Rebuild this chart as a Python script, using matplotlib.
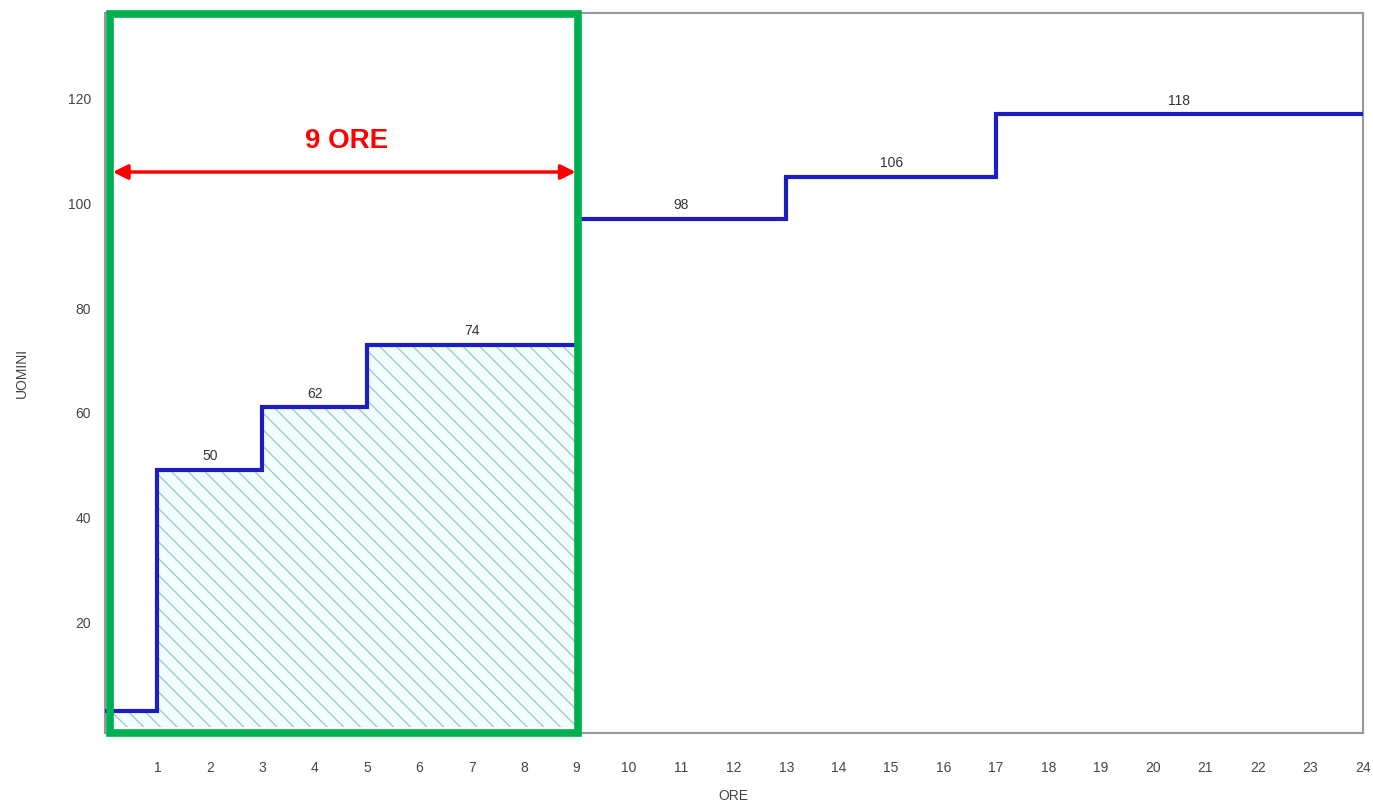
import matplotlib
matplotlib.use("Agg")
import matplotlib.pyplot as plt
import matplotlib.transforms as mtransforms
from matplotlib.patches import Rectangle

plt.rcParams.update({"font.family": ["Liberation Sans", "DejaVu Sans"]})

# step edges (hours) and crew level on each interval
edges = [0, 1, 3, 5, 9, 13, 17, 24]
levels = [3, 49, 61, 73, 97, 105, 117]
step_labels = ["", "50", "62", "74", "98", "106", "118"]
xticks = list(range(1, 25))
yticks = [20, 40, 60, 80, 100, 120]
shift_end = 9
shift_text = "9 ORE"

fig = plt.figure(figsize=(13.73, 8.09), dpi=100)
ax = fig.add_axes([0.0765, 0.094, 0.916, 0.89])

xs, ys = [], []
for i, lv in enumerate(levels):
    xs += [edges[i], edges[i + 1]]
    ys += [lv, lv]

# hatched area under the curve during the first shift
fx = [x for x in xs if x <= shift_end]
fy = ys[:len(fx)]
ax.fill_between(fx, 0, fy, facecolor="#f2fdfd", edgecolor="#9fcaca",
                hatch="\\\\", linewidth=0)

ax.plot(xs, ys, color="#1e1ec0", lw=3, solid_joinstyle="miter", zorder=4)

for i, lab in enumerate(step_labels):
    if lab:
        ax.text((edges[i] + edges[i + 1]) / 2, levels[i] + 1.3, lab,
                ha="center", va="bottom", fontsize=10, color="#333333")

# green box marking the first 9 hours
trans = mtransforms.blended_transform_factory(ax.transData, ax.transAxes)
ax.add_patch(Rectangle((0.1, 0.0), shift_end - 0.08, 0.998, transform=trans,
                       fill=False, edgecolor="#00b050", lw=5.5, zorder=6,
                       clip_on=False))

ax.annotate("", xy=(0.15, 106), xytext=(shift_end - 0.02, 106),
            arrowprops=dict(arrowstyle="<|-|>", color="red", lw=2.5,
                            mutation_scale=22, shrinkA=0, shrinkB=0),
            zorder=7)
ax.text(4.6, 112, shift_text, color="red", fontsize=20, fontweight="bold",
        ha="center", va="center")

ax.set_xlim(0, 24)
ax.set_ylim(-1.2, 136.4)
ax.set_xticks(xticks)
ax.set_yticks(yticks)
ax.tick_params(length=0, labelsize=10, labelcolor="#444444")
ax.tick_params(axis="x", pad=20)
ax.tick_params(axis="y", pad=10)
for s in ax.spines.values():
    s.set_color("#999999")
    s.set_linewidth(1.5)
ax.set_xlabel("ORE", fontsize=10, color="#444444", labelpad=10)
ax.set_ylabel("UOMINI", fontsize=10, color="#444444", labelpad=28)

fig.savefig("out.png", dpi=100)
